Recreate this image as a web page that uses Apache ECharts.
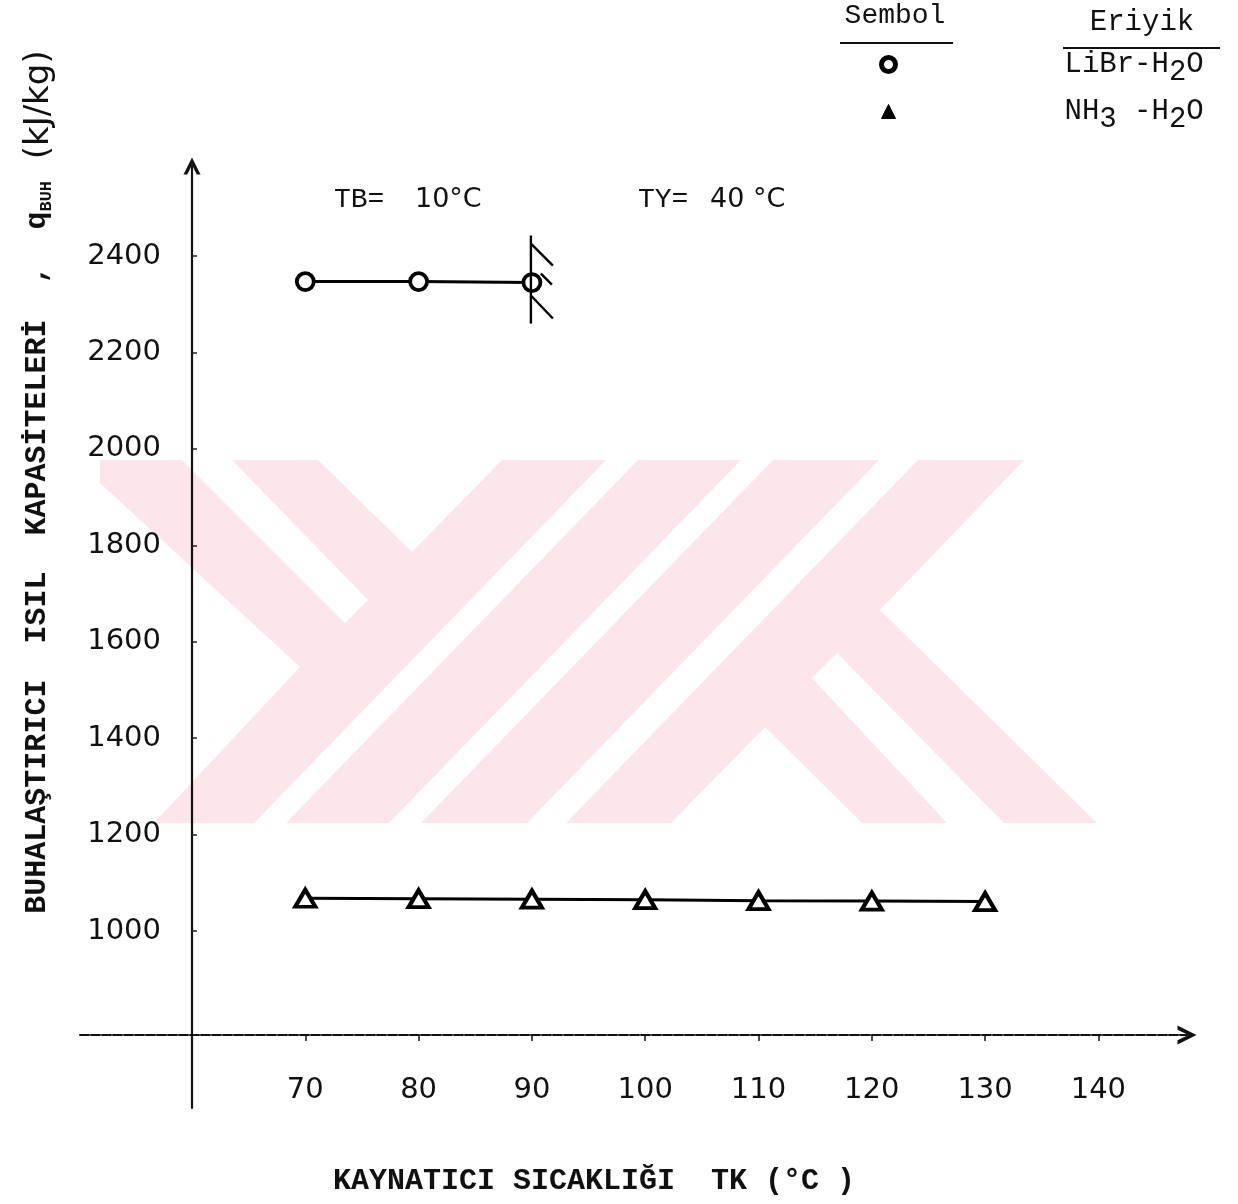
<!DOCTYPE html>
<html>
<head>
<meta charset="utf-8">
<script src="https://cdn.jsdelivr.net/npm/echarts@6/dist/echarts.min.js"></script>
<style>
  html, body { margin: 0; padding: 0; background: #fff; }
  #chart { width: 1238px; height: 1204px; }
</style>
</head>
<body>
<div id="chart"></div>
<script>
// Boiler temperature TK (°C) and evaporator heat capacities (kJ/kg)
const tempsK = [70, 80, 90, 100, 110, 120, 130];
const librH2O = [2347, 2347, 2345];                       // ends at the crystallisation limit (90 °C)
const nh3H2O = [1068, 1067, 1066, 1065, 1063, 1062, 1061];
const xTickValues = [70, 80, 90, 100, 110, 120, 130, 140];
const yTickValues = [1000, 1200, 1400, 1600, 1800, 2000, 2200, 2400];
const seriesNames = ['LiBr-H2O', 'NH3 -H2O'];

const MONO = '"Liberation Mono", "DejaVu Sans Mono", monospace';
const HAND = '"DejaVu Sans", sans-serif';
const INK = '#111';
const PINK = '#fce6ec';

// digits in the solution names are typed lowered, as subscripts
function chemRich(name) {
  return '{g|}{t|' + name.replace(/\d/g, d => '}{s|' + d + '}{t|') + '}';
}

// open chevron arrow heads (pointing up before the axis rotates them)
const chevron = 'path://M0,20 L10,0 L20,20 L15.5,20 L10,8.5 L4.5,20 Z';

// background watermark (logo), pink body with white cut stripes
const wmPink = [[100,460],[318,460],[412,552],[502,460],[1024,460],[880,610],[1097,823],[862,823],[765,727],[671,823],[154,823],[300,667],[100,483]];
const wmCuts = [
  [[182,460],[232,460],[368,600],[345,623]],
  [[254,823],[286,823],[638,460],[606,460]],
  [[389,823],[421,823],[773,460],[741,460]],
  [[527,823],[566,823],[918,460],[879,460]],
  [[812,678],[837,653],[1004,823],[947,823]]
];

const graphics = [
  { type: 'polygon', z: -10, silent: true, shape: { points: wmPink }, style: { fill: PINK } }
].concat(wmCuts.map(pts => ({ type: 'polygon', z: -9, silent: true, shape: { points: pts }, style: { fill: '#fff' } })))
.concat([
  // y axis title, read bottom to top
  {
    type: 'text', x: 37, y: 482, rotation: Math.PI / 2,
    style: {
      text: '{b|BUHALAŞTIRICI  ISIL  KAPASİTELERİ  ,  q}{s|BUH}{u|  (kJ/kg)}',
      align: 'center', verticalAlign: 'middle', fill: INK,
      rich: {
        b: { fontFamily: MONO, fontWeight: 'bold', fontSize: 30, lineHeight: 30, verticalAlign: 'top', fill: INK },
        s: { fontFamily: MONO, fontWeight: 'bold', fontSize: 17, lineHeight: 17, padding: [16, 0, 0, 0], verticalAlign: 'top', fill: INK },
        u: { fontFamily: HAND, fontSize: 34, lineHeight: 30, verticalAlign: 'top', fill: INK }
      }
    }
  },
  // x axis title
  {
    type: 'text', x: 594, y: 1181,
    style: { text: 'KAYNATICI SICAKLIĞI  TK (°C )', font: 'bold 30px ' + MONO, fill: INK, align: 'center', verticalAlign: 'middle' }
  },
  // operating conditions
  { type: 'text', x: 334, y: 200, style: { text: 'TB=', font: '28px ' + MONO, fill: INK, verticalAlign: 'middle' } },
  { type: 'text', x: 415, y: 200, style: { text: '10°C', font: '27px ' + HAND, fill: INK, verticalAlign: 'middle' } },
  { type: 'text', x: 638, y: 200, style: { text: 'TY=', font: '28px ' + MONO, fill: INK, verticalAlign: 'middle' } },
  { type: 'text', x: 710, y: 200, style: { text: '40 °C', font: '27px ' + HAND, fill: INK, verticalAlign: 'middle' } },
  // legend table headers
  { type: 'text', x: 895, y: 16, style: { text: 'Sembol', font: '28px ' + MONO, fill: INK, align: 'center', verticalAlign: 'middle' } },
  { type: 'line', shape: { x1: 840, y1: 43, x2: 953, y2: 43 }, style: { stroke: INK, lineWidth: 2 } },
  { type: 'text', x: 1142, y: 22, style: { text: 'Eriyik', font: '29px ' + MONO, fill: INK, align: 'center', verticalAlign: 'middle' } },
  { type: 'line', shape: { x1: 1063, y1: 48, x2: 1220, y2: 48 }, style: { stroke: INK, lineWidth: 2 } }
]);

const chart = echarts.init(document.getElementById('chart'), null, { renderer: 'canvas' });

const plainNumber = v => String(v);

const option = {
  animation: false,
  backgroundColor: '#fff',
  grid: { left: 80, right: 51, top: 166, bottom: 96, containLabel: false },
  legend: {
    orient: 'vertical',
    left: 874, top: 45,
    itemWidth: 14, itemHeight: 14, itemGap: 10,
    selectedMode: false,
    data: [
      { name: seriesNames[0], icon: 'circle', itemStyle: { color: '#fff', borderColor: '#000', borderWidth: 5 } },
      { name: seriesNames[1], icon: 'triangle', itemStyle: { color: '#000', borderColor: '#000', borderWidth: 1 } }
    ],
    formatter: chemRich,
    textStyle: {
      rich: {
        g: { width: 164 },
        t: { fontFamily: MONO, fontSize: 29, lineHeight: 29, verticalAlign: 'top', color: INK },
        s: { fontFamily: MONO, fontSize: 29, lineHeight: 29, padding: [8, 0, 0, 0], verticalAlign: 'top', color: INK }
      }
    }
  },
  xAxis: {
    type: 'value',
    min: 50.115, max: 147.82,
    offset: -73,
    axisLine: { show: true, symbol: ['none', chevron], symbolSize: [19, 21], lineStyle: { color: '#111', width: 2, type: [9, 2] } },
    axisTick: { show: true, customValues: xTickValues, length: 6, lineStyle: { color: '#111', width: 1.5 } },
    axisLabel: { customValues: xTickValues, formatter: plainNumber, margin: 41, fontFamily: HAND, fontSize: 29, color: INK },
    splitLine: { show: false }
  },
  yAxis: {
    type: 'value',
    min: 632.9, max: 2586.7,
    offset: -112,
    axisLine: { show: true, symbol: ['none', chevron], symbolSize: [17, 18], lineStyle: { color: '#111', width: 2.2 } },
    axisTick: { show: true, inside: true, customValues: yTickValues, length: 5, lineStyle: { color: '#222', width: 1.5 } },
    axisLabel: { customValues: yTickValues, formatter: plainNumber, margin: 31, fontFamily: HAND, fontSize: 29, color: INK },
    splitLine: { show: false }
  },
  series: [
    {
      name: seriesNames[0],
      type: 'line',
      data: librH2O.map((v, i) => [tempsK[i], v]),
      symbol: 'circle', symbolSize: 17,
      itemStyle: { color: '#fff', borderColor: '#000', borderWidth: 3.8 },
      lineStyle: { color: '#000', width: 3 },
      z: 3
    },
    {
      name: seriesNames[1],
      type: 'line',
      data: nh3H2O.map((v, i) => [tempsK[i], v]),
      symbol: 'triangle', symbolSize: [20, 17],
      itemStyle: { color: '#fff', borderColor: '#000', borderWidth: 4 },
      lineStyle: { color: '#000', width: 3 },
      z: 3
    },
    {
      // hatched limit mark at the last LiBr-H2O point
      name: 'limit',
      type: 'custom',
      data: [[tempsK[librH2O.length - 1], librH2O[librH2O.length - 1]]],
      renderItem: function (params, api) {
        const p = api.coord([api.value(0), api.value(1)]);
        const st = { stroke: '#000', lineWidth: 2.4 };
        const seg = (a, b, c, d) => ({ type: 'line', shape: { x1: p[0] + a, y1: p[1] + b, x2: p[0] + c, y2: p[1] + d }, style: st });
        return {
          type: 'group',
          children: [
            seg(-1, -47, -1, 41),
            seg(-1, -39, 21, -17),
            seg(9, -9, 20, 2),
            seg(-1, 13, 21, 36)
          ]
        };
      },
      z: 4
    }
  ],
  graphic: graphics
};

chart.setOption(option);
</script>
</body>
</html>
